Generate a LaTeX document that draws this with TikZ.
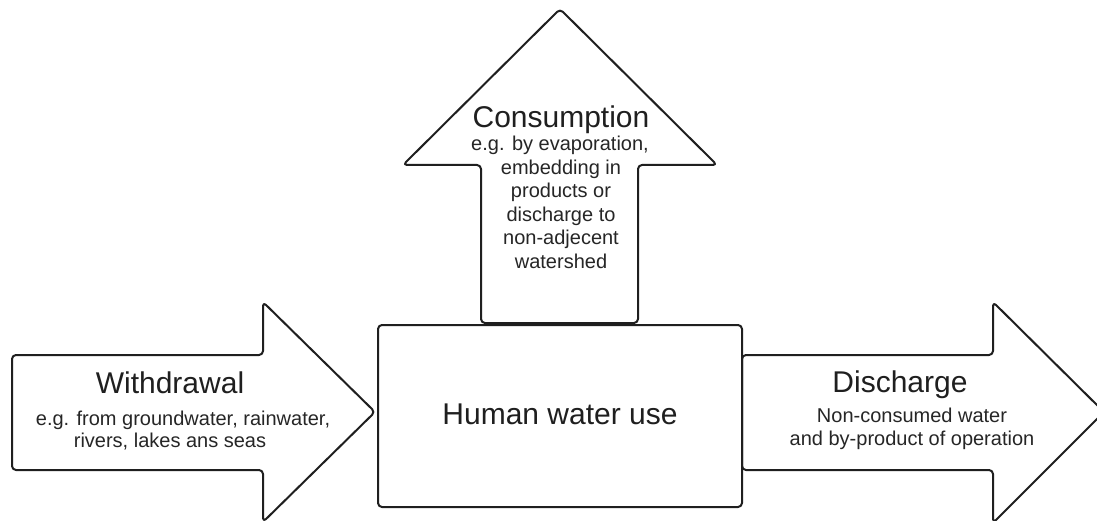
\documentclass[tikz,border=0pt]{standalone}
\usepackage{fontspec}
\setmainfont{Liberation Sans}
\begin{document}
\begin{tikzpicture}[x=1pt,y=-1pt,
  shapeline/.style={draw=black!88, line width=2pt, rounded corners=4pt, fill=white, line join=round},
  titletext/.style={anchor=base, inner sep=0pt, text=black!88, font=\fontsize{30}{34}\selectfont},
  subtext/.style={anchor=base, inner sep=0pt, text=black!85, font=\fontsize{20}{23.5}\selectfont}]
\useasboundingbox (0,0) rectangle (1097,521);
\begin{scope}
\clip (0,0) rectangle (1097,521);
% left arrow (withdrawal)
\draw[shapeline] (12,355) -- (263,355) -- (263,302) -- (375,412) -- (263,522) -- (263,470) -- (12,470) -- cycle;
% up arrow (consumption)
\draw[shapeline] (481,323) -- (481,165) -- (403,165) -- (560,9) -- (717,165) -- (638,165) -- (638,323) -- cycle;
% right arrow (discharge)
\draw[shapeline] (742,355) -- (993,355) -- (993,302) -- (1104,412) -- (993,523) -- (993,470) -- (742,470) -- cycle;
% central box
\draw[shapeline] (378,325) rectangle (742,507);
\end{scope}
\node[titletext] (hwu) at (560,424) {Human water use};

\node[titletext] (wtitle) at (170,393) {Withdrawal};
\node[subtext] (wl1) at (183,425) {e.g. from groundwater, rainwater,};
\node[subtext] (wl2) at (170,447) {rivers, lakes ans seas};

\node[titletext] (ctitle) at (561,128) {Consumption};
\node[subtext] (cl1) at (560,151) {e.g. by evaporation,};
\node[subtext] (cl2) at (561,174.5) {embedding in};
\node[subtext] (cl3) at (561,198) {products or};
\node[subtext] (cl4) at (561,221.5) {discharge to};
\node[subtext] (cl5) at (561,245) {non-adjecent};
\node[subtext] (cl6) at (561,268.5) {watershed};

\node[titletext] (dtitle) at (900,392) {Discharge};
\node[subtext] (dl1) at (912,422) {Non-consumed water};
\node[subtext] (dl2) at (912,445) {and by-product of operation};
\end{tikzpicture}
\end{document}
